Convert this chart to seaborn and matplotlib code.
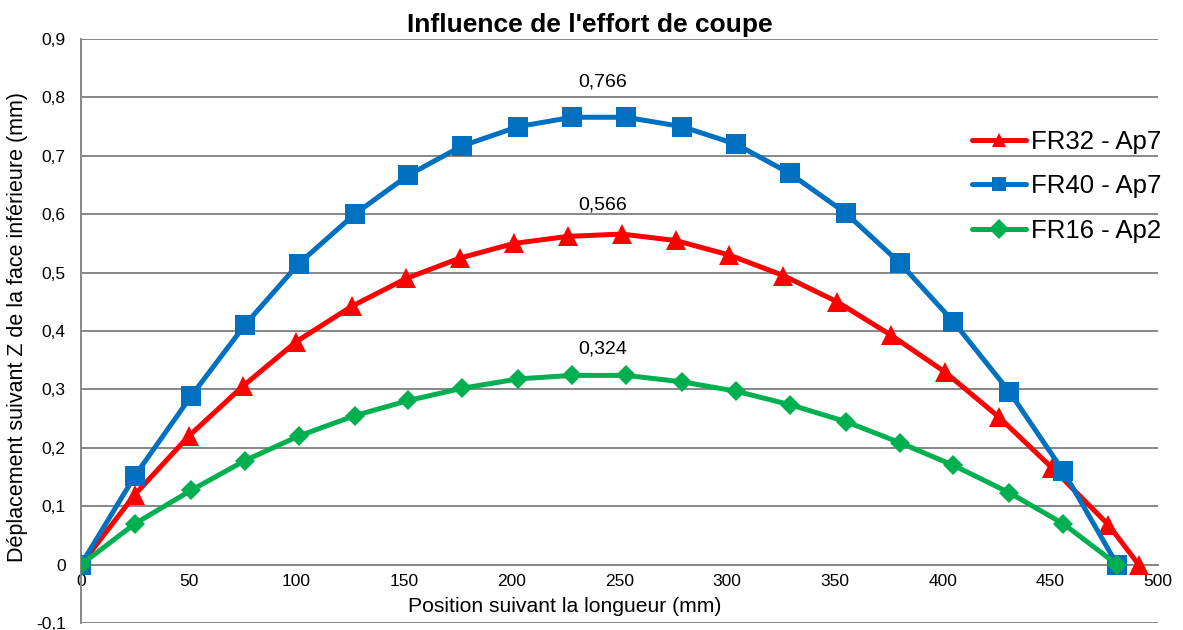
import matplotlib
matplotlib.use("Agg")
import matplotlib.pyplot as plt
import matplotlib.ticker as mticker
import seaborn as sns
import pandas as pd

# Positions along the length (mm) and lower-face Z displacement (mm)
x_fr32 = [0, 25, 50, 75, 100, 126, 151, 176, 201, 226, 251, 276, 301, 326,
          351, 376, 401, 426, 451, 477, 491]
y_fr32 = [0, 0.12, 0.22, 0.305, 0.382, 0.443, 0.49, 0.525, 0.55, 0.562, 0.566,
          0.555, 0.53, 0.495, 0.45, 0.393, 0.33, 0.253, 0.165, 0.068, 0]

x_fr40 = [0, 25, 51, 76, 101, 127, 152, 177, 203, 228, 253, 279, 304, 329,
          355, 380, 405, 431, 456, 481]
y_fr40 = [0, 0.152, 0.288, 0.41, 0.515, 0.6, 0.667, 0.717, 0.75, 0.766, 0.766,
          0.75, 0.72, 0.67, 0.602, 0.517, 0.416, 0.296, 0.16, 0]

x_fr16 = [0, 25, 51, 76, 101, 127, 152, 177, 203, 228, 253, 279, 304, 329,
          355, 380, 405, 431, 456, 481]
y_fr16 = [0, 0.07, 0.127, 0.178, 0.22, 0.255, 0.281, 0.302, 0.318, 0.324, 0.324,
          0.313, 0.297, 0.274, 0.245, 0.209, 0.17, 0.123, 0.07, 0]

series_names = ["FR32 - Ap7", "FR40 - Ap7", "FR16 - Ap2"]

title = "Influence de l'effort de coupe"
xlabel = "Position suivant la longueur (mm)"
ylabel = "Déplacement suivant Z de la face inférieure (mm)"

sns.set_style("white")
plt.rcParams["font.family"] = ["Liberation Sans", "DejaVu Sans"]
plt.rcParams["text.color"] = "black"

fig = plt.figure(figsize=(11.83, 6.30), dpi=100)
ax = fig.add_axes([0.0685, 0.0111, 0.9104, 0.927])

styles = [
    (x_fr32, y_fr32, "#FF0000", "^", 14),
    (x_fr40, y_fr40, "#0070C0", "s", 14),
    (x_fr16, y_fr16, "#00B050", "D", 10.5),
]
label_offsets = [0.05, 0.06, 0.046]

for name, (xs, ys, col, mk, ms), off in zip(series_names, styles, label_offsets):
    df = pd.DataFrame({"x": xs, "y": ys})
    sns.lineplot(data=df, x="x", y="y", ax=ax, color=col, marker=mk,
                 markersize=ms, markeredgewidth=0, linewidth=3.6,
                 label=name, sort=False, zorder=3)
    peak = max(ys)
    ax.text(242, peak + off, f"{peak:.3f}".replace(".", ","), ha="center",
            va="center", fontsize=14, color="black")

ax.set_xlim(0, 500)
ax.set_ylim(-0.1, 0.9)
ax.xaxis.set_major_locator(mticker.MultipleLocator(50))
ax.yaxis.set_major_locator(mticker.MultipleLocator(0.1))
ax.yaxis.set_major_formatter(mticker.FuncFormatter(
    lambda v, p: "0" if abs(v) < 1e-9 else f"{v:.1f}".replace(".", ",")))
ax.xaxis.set_major_formatter(mticker.FuncFormatter(lambda v, p: f"{v:.0f}"))

ax.grid(axis="y", color="#878787", linewidth=1.4)
ax.set_axisbelow(True)
for s in ["top", "right"]:
    ax.spines[s].set_visible(False)
ax.spines["bottom"].set_position(("data", 0))
for s in ["left", "bottom"]:
    ax.spines[s].set_color("#878787")
    ax.spines[s].set_linewidth(1.4)
ax.tick_params(axis="both", colors="#878787", labelcolor="black",
               labelsize=12.5, length=5, width=1.2, direction="out")
ax.tick_params(axis="x", pad=2)
ax.tick_params(axis="y", pad=6)
ax.set_xlabel("")
ax.set_ylabel("")

fig.text(565 / 1183, 1 - 607 / 630, xlabel, ha="center", va="center", fontsize=15.2)
fig.text(18 / 1183, 1 - 327 / 630, ylabel, ha="center", va="center",
         rotation=90, fontsize=15.5)
fig.text(590 / 1183, 1 - 25 / 630, title, ha="center", va="center",
         fontsize=19, fontweight="bold")

leg = ax.legend(loc="upper left", bbox_to_anchor=(0.827, 0.845), frameon=False,
                fontsize=18.5, handlelength=2.1, handletextpad=0.2,
                labelspacing=0.8, borderaxespad=0, borderpad=0)
for h in leg.legend_handles:
    h.set_markersize(10)

fig.savefig("out.png", dpi=100)
